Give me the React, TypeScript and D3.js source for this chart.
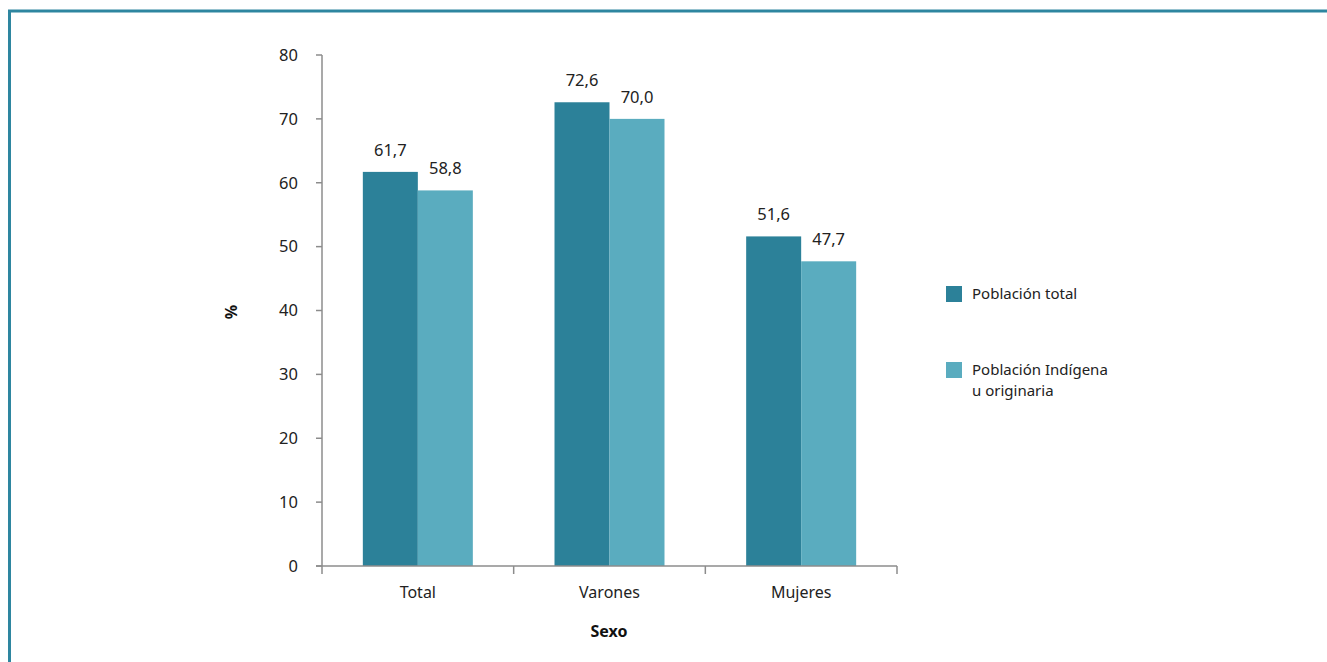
import React from "react";
import * as d3 from "d3";

const categories = ["Total", "Varones", "Mujeres"];
const seriesNames = ["Población total", "Población Indígena u originaria"];
const totalValues = [61.7, 72.6, 51.6];
const indigenaValues = [58.8, 70.0, 47.7];
const yTicks = [0, 10, 20, 30, 40, 50, 60, 70, 80];
const colors = ["#2c8199", "#5aacbf"];

const W = 1327;
const H = 662;
const left = 322;
const right = 897;
const top = 55;
const bottom = 566;
const font = "'Noto Sans', 'Open Sans', sans-serif";

export default function App() {
  const x = d3.scaleBand<string>().domain(categories).range([left, right]);
  const y = d3.scaleLinear().domain([0, 80]).range([bottom, top]);
  const barW = 55;
  const series = [totalValues, indigenaValues];
  const fmt = (v: number) => v.toFixed(1).replace(".", ",");
  const boundaries = [...categories.map((c) => x(c) as number), right];

  return (
    <svg width={W} height={H} style={{ position: "absolute", left: 0, top: 0 }} fontFamily={font}>
      <rect x={0} y={0} width={W} height={H} fill="#fff" />
      <line x1={8} y1={11} x2={W} y2={11} stroke="#2e86a0" strokeWidth={3} />
      <line x1={9.5} y1={11} x2={9.5} y2={H} stroke="#2e86a0" strokeWidth={3} />

      {/* bars */}
      {categories.map((c, i) => {
        const cx = (x(c) as number) + x.bandwidth() / 2;
        return series.map((vals, s) => {
          const bx = cx - barW + s * barW;
          const v = vals[i];
          return (
            <g key={c + s}>
              <rect x={bx} y={y(v)} width={barW} height={bottom - y(v)} fill={colors[s]} />
              <text x={bx + barW / 2} y={y(v) - 16} textAnchor="middle" fontSize={16.5} fill="#222">
                {fmt(v)}
              </text>
            </g>
          );
        });
      })}

      {/* y axis */}
      <line x1={left} y1={top} x2={left} y2={bottom} stroke="#8c8c8c" strokeWidth={1.5} />
      {yTicks.map((t) => (
        <g key={t}>
          <line x1={left - 6} y1={y(t)} x2={left} y2={y(t)} stroke="#8c8c8c" strokeWidth={1.5} />
          <text x={298} y={y(t)} dy="0.35em" textAnchor="end" fontSize={16.5} fill="#222">
            {t}
          </text>
        </g>
      ))}

      {/* x axis */}
      <line x1={left - 6} y1={bottom} x2={right} y2={bottom} stroke="#8c8c8c" strokeWidth={1.5} />
      {boundaries.map((b, i) => (
        <line key={i} x1={b} y1={bottom} x2={b} y2={bottom + 8} stroke="#8c8c8c" strokeWidth={1.5} />
      ))}
      {categories.map((c) => (
        <text key={c} x={(x(c) as number) + x.bandwidth() / 2} y={598} textAnchor="middle" fontSize={16} fill="#222">
          {c}
        </text>
      ))}

      <text x={609} y={637} textAnchor="middle" fontSize={16} fontWeight="bold" fill="#111">
        Sexo
      </text>
      <text transform={`translate(231,312) rotate(-90)`} textAnchor="middle" dy="0.35em" fontSize={16} fontWeight="bold" fill="#111">
        %
      </text>

      {/* legend */}
      <rect x={946} y={286} width={16} height={16} fill={colors[0]} />
      <text x={972} y={294} dy="0.35em" fontSize={15} fill="#222">
        {seriesNames[0]}
      </text>
      <rect x={946} y={362} width={16} height={16} fill={colors[1]} />
      <text x={972} y={370} dy="0.35em" fontSize={15} fill="#222">
        <tspan x={972}>Población Indígena</tspan>
        <tspan x={972} dy="1.35em">u originaria</tspan>
      </text>
    </svg>
  );
}
